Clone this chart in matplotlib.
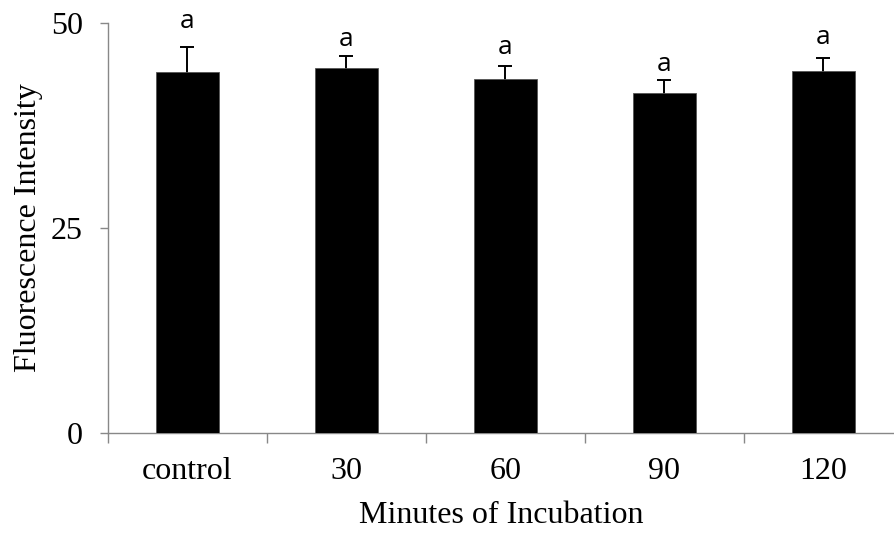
import numpy as np
import matplotlib.pyplot as plt

# values
groups = ["control", "30", "60", "90", "120"]
means = [44.0, 44.5, 43.2, 41.5, 44.2]
sem = [3.1, 1.5, 1.5, 1.5, 1.5]
letters = ["a", "a", "a", "a", "a"]
letter_y = [49.4, 47.2, 46.2, 44.2, 47.4]

fig = plt.figure(figsize=(8.95, 5.33), dpi=100)
ax = fig.add_axes([108/895, 100/533, 1 - 108/895, 410/533])

x = np.arange(len(groups))
# bars drawn over the error bars so only the upper half shows
ax.errorbar(x, means, yerr=sem, fmt="none",
            ecolor="black", elinewidth=1.4, capsize=5, capthick=1.4, zorder=2)
ax.bar(x, means, width=0.4, color="black", edgecolor="#555555", linewidth=0.6, zorder=3)

for xi, lab, ly in zip(x, letters, letter_y):
    ax.text(xi, ly, lab, ha="center", va="baseline", fontsize=19,
            family="Open Sans", color="black")

serif = "Liberation Serif"
fs = 23
ax.set_xlim(-0.5, 4.45)
ax.set_ylim(0, 50)
ax.set_yticks([0, 25, 50])
ax.set_yticklabels(["0", "25", "50"], family=serif, fontsize=fs)

# category ticks between groups, labels centred on bars
ax.set_xticks(np.arange(-0.5, 4.5, 1.0))
ax.set_xticklabels([])
ax.set_xticks(x, minor=True)
ax.set_xticklabels(groups, minor=True, family=serif, fontsize=fs)
ax.tick_params(axis="x", which="minor", length=0, pad=17)
ax.tick_params(axis="x", which="major", length=7, color="#888888", width=1)
ax.tick_params(axis="y", length=6, color="#888888", width=1, pad=12)

for s in ["top", "right"]:
    ax.spines[s].set_visible(False)
for s in ["left", "bottom"]:
    ax.spines[s].set_color("#888888")
    ax.spines[s].set_linewidth(1)

ax.set_ylabel("Fluorescence Intensity", family=serif, fontsize=fs, labelpad=6)
ax.set_xlabel("Minutes of Incubation", family=serif, fontsize=fs, labelpad=11)

plt.savefig("out.png", dpi=100)
